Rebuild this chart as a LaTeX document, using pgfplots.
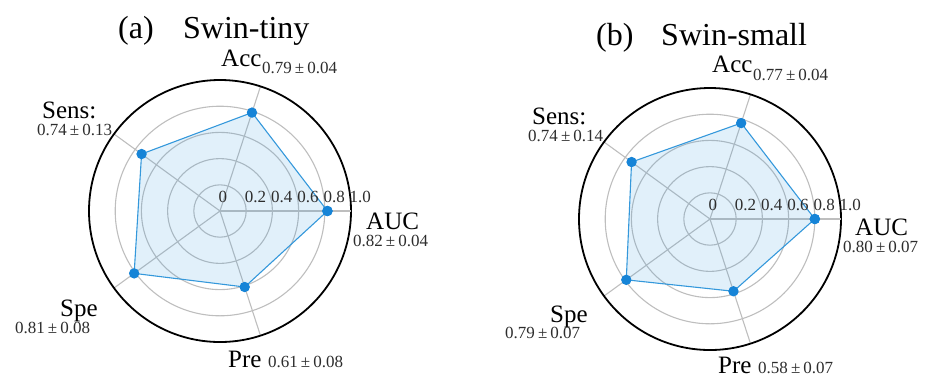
\documentclass[border=0pt]{standalone}
\usepackage{fontspec}
\setmainfont{Liberation Serif}
\usepackage{pgfplots}
\pgfplotsset{compat=1.18}
\usepgfplotslibrary{polar}
\definecolor{lineblue}{RGB}{52,152,219}
\definecolor{markblue}{RGB}{22,132,215}
\definecolor{gridgray}{RGB}{190,190,190}
\definecolor{valgray}{RGB}{45,45,45}
\newcommand{\lbl}{\fontsize{25}{28}\selectfont}
\newcommand{\ttl}{\fontsize{32}{34}\selectfont}
\newcommand{\val}{\fontsize{17}{19}\selectfont\color{valgray}}
\newcommand{\pmv}[2]{#1\hspace{0.18em}±\hspace{0.18em}#2}
\pgfplotsset{radar/.style={
  scale only axis, width=262pt, height=262pt, anchor=center,
  xmin=0, xmax=360, ymin=0, ymax=1,
  xtick={0,72,144,216,288}, ytick={0.2,0.4,0.6,0.8},
  xticklabels={}, yticklabels={},
  major tick length=0pt,
  grid=major, major grid style={gridgray, line width=1.1pt},
  axis line style={black, line width=1.8pt},
  y axis line style={gridgray, line width=1.1pt},
  clip=false,
}}
\tikzset{ticklbl/.style={anchor=south west, inner sep=0pt, xshift=-1.5pt, yshift=8pt, font=\fontsize{17}{17}\selectfont, text=valgray},
  valnode/.style={anchor=base west, inner sep=0pt, text height=11.5pt, text depth=0pt},
  lblnode/.style={anchor=base west, inner sep=0pt, font=\lbl, text height=17pt, text depth=0pt}}
\begin{document}
\begin{tikzpicture}
\path[use as bounding box] (0,0) rectangle (925pt,-384pt);
% ---------- (a) Swin-tiny ----------
\begin{polaraxis}[radar, at={(220pt,-211pt)}]
\addplot[draw=lineblue, line width=1.1pt, fill=lineblue, fill opacity=0.15,
  mark=*, mark size=4.6pt, mark options={fill=markblue, draw=markblue, fill opacity=1}]
  coordinates {(0,0.82) (72,0.79) (144,0.74) (216,0.81) (288,0.61) (360,0.82)};
\node[ticklbl] at (axis cs:0,0) {0};
\node[ticklbl] at (axis cs:0,0.2) {0.2};
\node[ticklbl] at (axis cs:0,0.4) {0.4};
\node[ticklbl] at (axis cs:0,0.6) {0.6};
\node[ticklbl] at (axis cs:0,0.8) {0.8};
\node[ticklbl] at (axis cs:0,1.0) {1.0};
\end{polaraxis}
% ---------- (b) Swin-small ----------
\begin{polaraxis}[radar, at={(710pt,-219pt)}]
\addplot[draw=lineblue, line width=1.1pt, fill=lineblue, fill opacity=0.15,
  mark=*, mark size=4.6pt, mark options={fill=markblue, draw=markblue, fill opacity=1}]
  coordinates {(0,0.80) (72,0.77) (144,0.74) (216,0.79) (288,0.58) (360,0.80)};
\node[ticklbl] at (axis cs:0,0) {0};
\node[ticklbl] at (axis cs:0,0.2) {0.2};
\node[ticklbl] at (axis cs:0,0.4) {0.4};
\node[ticklbl] at (axis cs:0,0.6) {0.6};
\node[ticklbl] at (axis cs:0,0.8) {0.8};
\node[ticklbl] at (axis cs:0,1.0) {1.0};
\end{polaraxis}
% ---------- labels (a) ----------
\node[anchor=base west, inner sep=0pt, font=\ttl] at (118pt,-38pt) {(a)};
\node[anchor=base west, inner sep=0pt, font=\ttl] at (183pt,-38pt) {Swin-tiny};
\node[lblnode] at (221pt,-66pt) {Acc};
\node[valnode] at (262pt,-73pt) {\val\pmv{0.79}{0.04}};
\node[lblnode] at (42pt,-118pt) {Sens:};
\node[valnode] at (37pt,-135pt) {\val\pmv{0.74}{0.13}};
\node[lblnode] at (366pt,-229pt) {AUC};
\node[valnode] at (353pt,-246pt) {\val\pmv{0.82}{0.04}};
\node[lblnode] at (60pt,-316pt) {Spe};
\node[valnode] at (15pt,-333pt) {\val\pmv{0.81}{0.08}};
\node[lblnode] at (228pt,-367pt) {Pre};
\node[valnode] at (268pt,-367pt) {\val\pmv{0.61}{0.08}};
% ---------- labels (b) ----------
\node[anchor=base west, inner sep=0pt, font=\ttl] at (596pt,-45pt) {(b)};
\node[anchor=base west, inner sep=0pt, font=\ttl] at (661pt,-45pt) {Swin-small};
\node[lblnode] at (712pt,-72pt) {Acc};
\node[valnode] at (753pt,-80pt) {\val\pmv{0.77}{0.04}};
\node[lblnode] at (532pt,-124pt) {Sens:};
\node[valnode] at (528pt,-141pt) {\val\pmv{0.74}{0.14}};
\node[lblnode] at (855pt,-235pt) {AUC};
\node[valnode] at (843pt,-252pt) {\val\pmv{0.80}{0.07}};
\node[lblnode] at (550pt,-322pt) {Spe};
\node[valnode] at (505pt,-338pt) {\val\pmv{0.79}{0.07}};
\node[lblnode] at (718pt,-373pt) {Pre};
\node[valnode] at (758pt,-373pt) {\val\pmv{0.58}{0.07}};
\end{tikzpicture}
\end{document}
